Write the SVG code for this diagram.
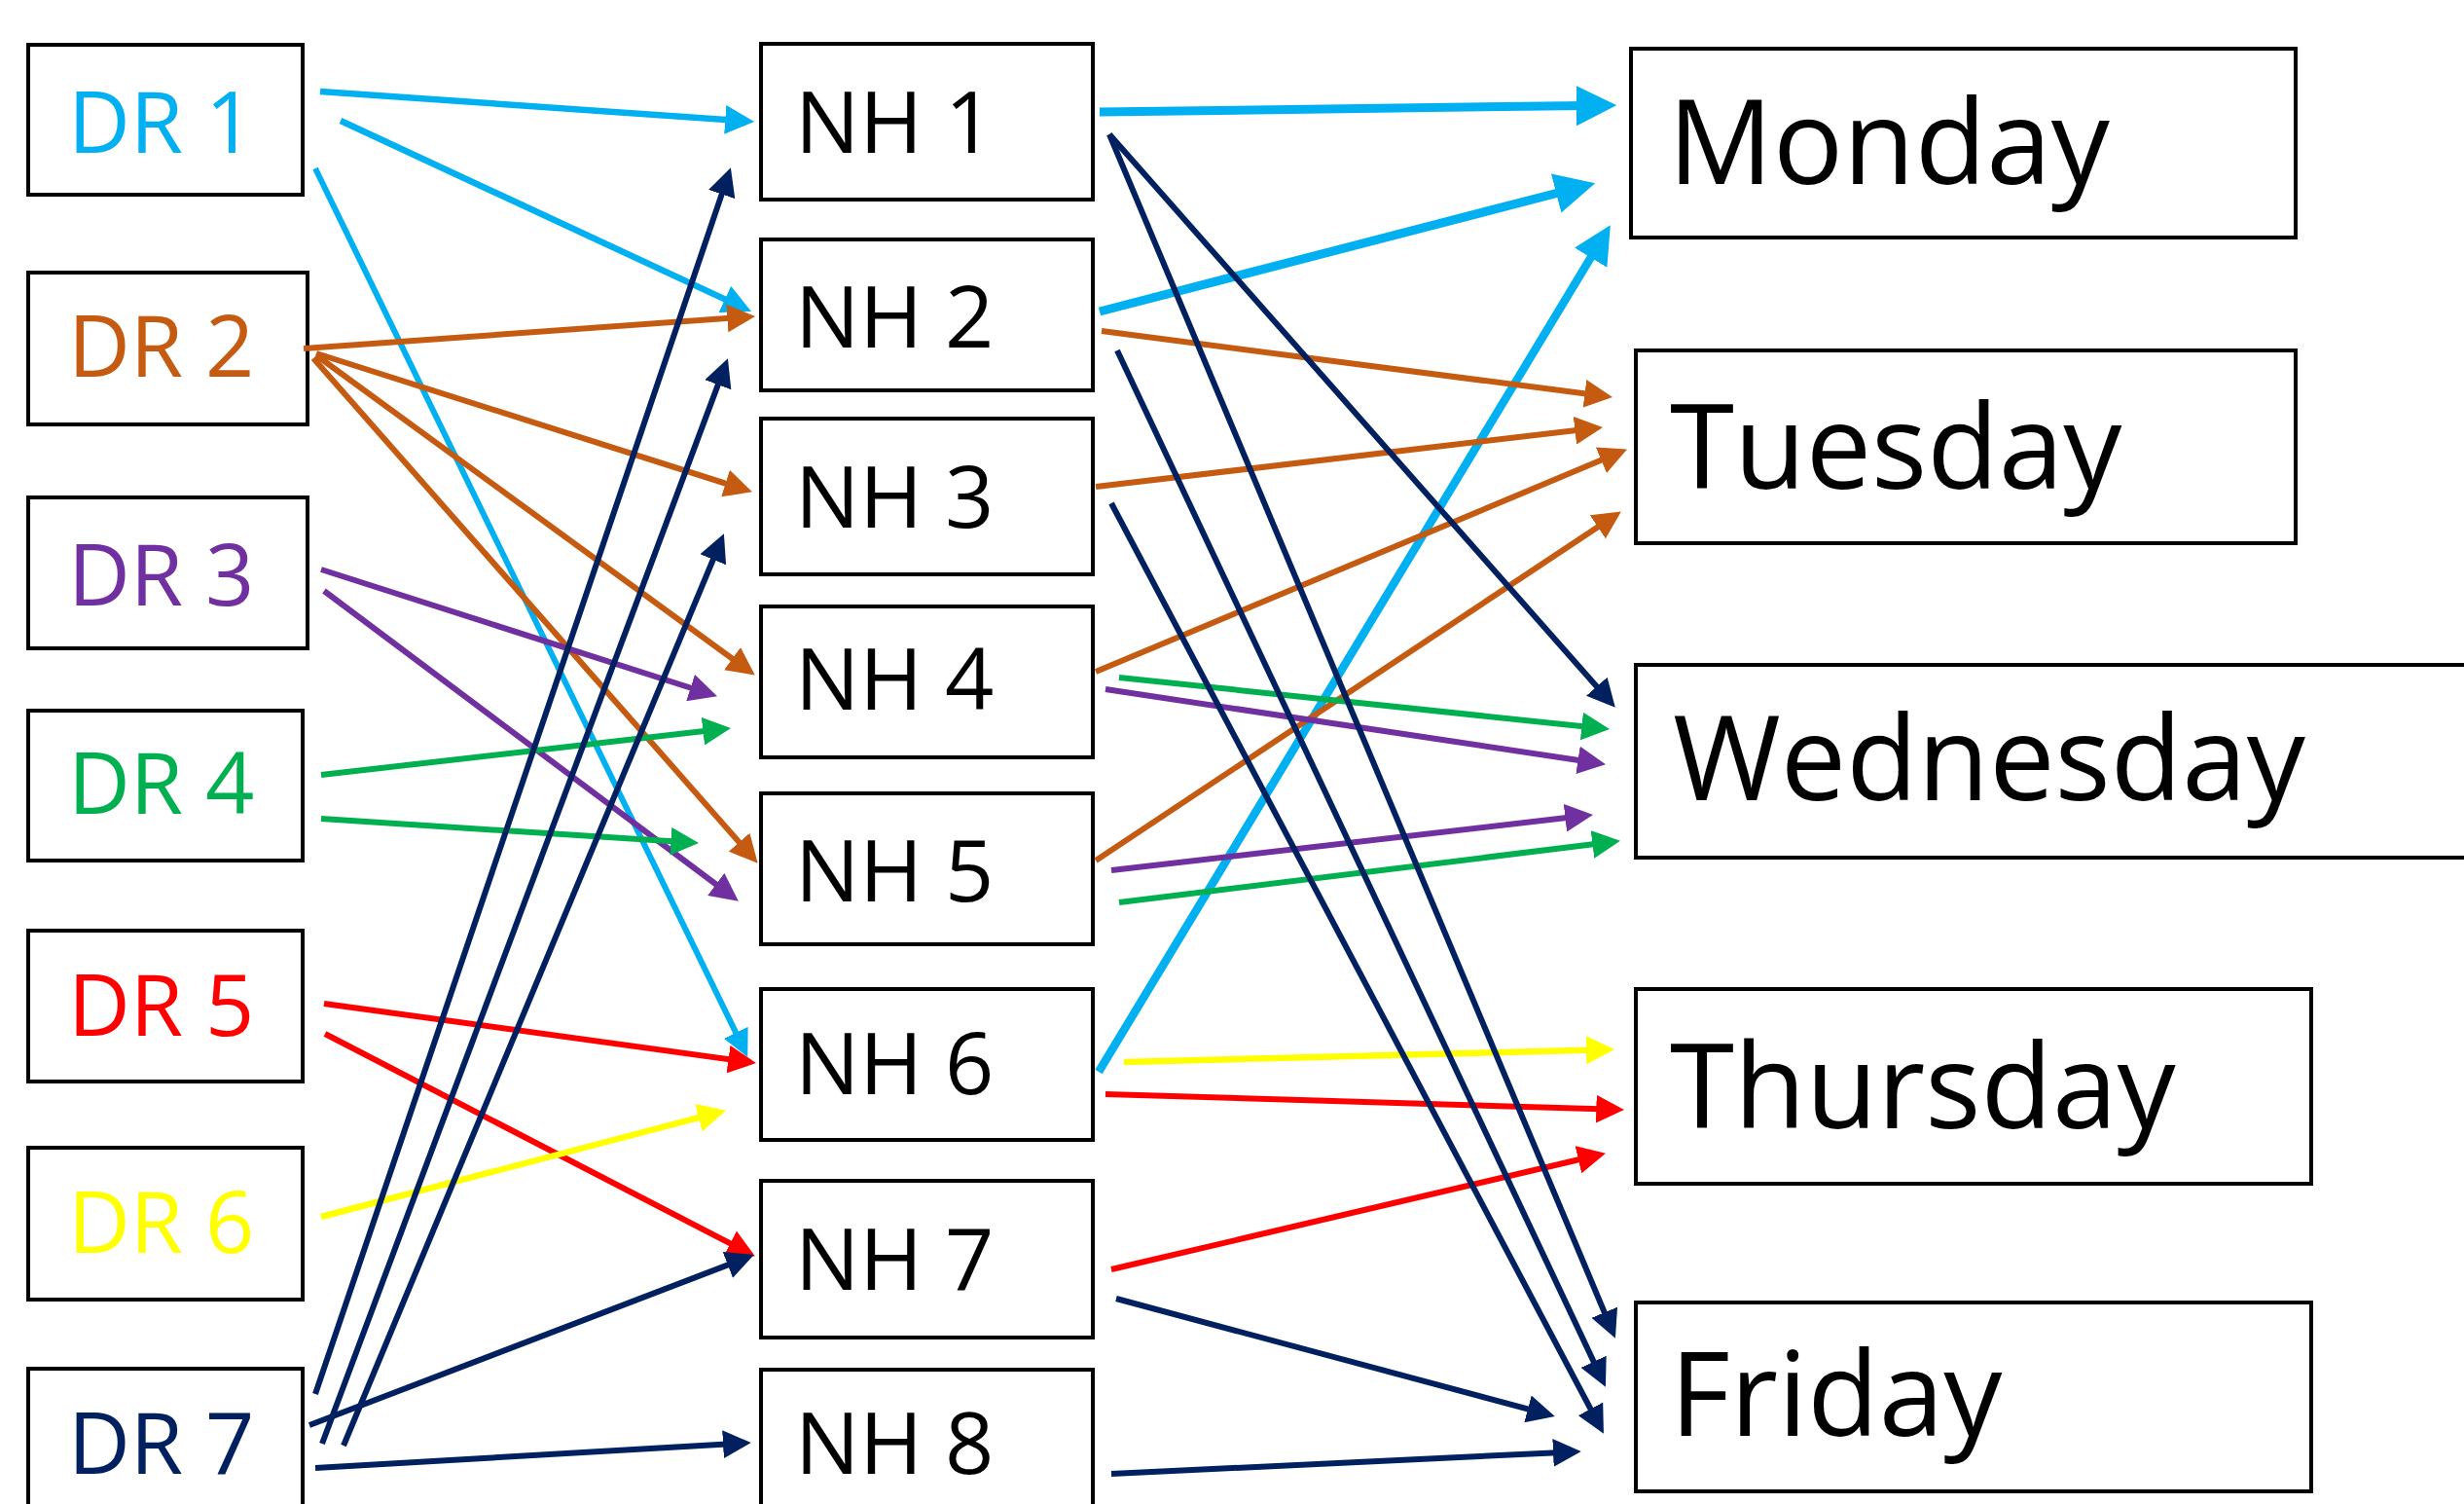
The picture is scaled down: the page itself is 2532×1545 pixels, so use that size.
<svg xmlns="http://www.w3.org/2000/svg" width="2532" height="1545" viewBox="0 0 2532 1545">
<style>
.box{fill:#ffffff;stroke:#000000;stroke-width:4}
.lbl{font-family:"Open Sans","Noto Sans","Liberation Sans",sans-serif;font-size:88px}
.day{font-family:"Open Sans","Noto Sans","Liberation Sans",sans-serif;font-size:120px;fill:#000000}
.c{fill:none;stroke-linecap:butt}
.cy{stroke:#00B0F0;marker-end:url(#mCy)}
.or{stroke:#C55A11;stroke-width:6;marker-end:url(#mOr)}
.pu{stroke:#7030A0;stroke-width:6;marker-end:url(#mPu)}
.gr{stroke:#00B050;stroke-width:6;marker-end:url(#mGr)}
.rd{stroke:#FF0000;stroke-width:6;marker-end:url(#mRd)}
.ye{stroke:#FFFF00;stroke-width:6.5;marker-end:url(#mYe)}
.nv{stroke:#002060;stroke-width:6;marker-end:url(#mNv)}
</style>
<defs>
<marker id="mCy" viewBox="0 0 10 10" refX="7.3" refY="5" markerWidth="4.6" markerHeight="4.6" markerUnits="strokeWidth" orient="auto"><path d="M0,0 L10,5 L0,10 z" fill="#00B0F0"/></marker>
<marker id="mOr" viewBox="0 0 10 10" refX="7.3" refY="5" markerWidth="4.8" markerHeight="4.8" markerUnits="strokeWidth" orient="auto"><path d="M0,0 L10,5 L0,10 z" fill="#C55A11"/></marker>
<marker id="mPu" viewBox="0 0 10 10" refX="7.3" refY="5" markerWidth="4.8" markerHeight="4.8" markerUnits="strokeWidth" orient="auto"><path d="M0,0 L10,5 L0,10 z" fill="#7030A0"/></marker>
<marker id="mGr" viewBox="0 0 10 10" refX="7.3" refY="5" markerWidth="4.8" markerHeight="4.8" markerUnits="strokeWidth" orient="auto"><path d="M0,0 L10,5 L0,10 z" fill="#00B050"/></marker>
<marker id="mRd" viewBox="0 0 10 10" refX="7.3" refY="5" markerWidth="4.8" markerHeight="4.8" markerUnits="strokeWidth" orient="auto"><path d="M0,0 L10,5 L0,10 z" fill="#FF0000"/></marker>
<marker id="mYe" viewBox="0 0 10 10" refX="7.3" refY="5" markerWidth="4.5" markerHeight="4.5" markerUnits="strokeWidth" orient="auto"><path d="M0,0 L10,5 L0,10 z" fill="#FFFF00"/></marker>
<marker id="mNv" viewBox="0 0 10 10" refX="7.3" refY="5" markerWidth="4.8" markerHeight="4.8" markerUnits="strokeWidth" orient="auto"><path d="M0,0 L10,5 L0,10 z" fill="#002060"/></marker>
</defs>
<rect x="0" y="0" width="2532" height="1545" fill="#ffffff"/>

<g id="dr1"><rect class="box" x="29" y="46" width="282" height="154"/><text class="lbl" x="70" y="157" fill="#00B0F0">DR 1</text></g>
<g id="dr2"><rect class="box" x="29" y="280" width="287" height="156"/><text class="lbl" x="70" y="387" fill="#C55A11">DR 2</text></g>
<g id="dr3"><rect class="box" x="29" y="511" width="287" height="155"/><text class="lbl" x="70" y="622" fill="#7030A0">DR 3</text></g>
<g id="dr4"><rect class="box" x="29" y="730" width="282" height="154"/><text class="lbl" x="70" y="836" fill="#00B050">DR 4</text></g>
<g id="dr5"><rect class="box" x="29" y="956" width="282" height="155"/><text class="lbl" x="70" y="1064" fill="#FF0000">DR 5</text></g>
<g id="dr6"><rect class="box" x="29" y="1179" width="282" height="156"/><text class="lbl" x="70" y="1287" fill="#FFFF00">DR 6</text></g>
<g id="dr7"><rect class="box" x="29" y="1406" width="282" height="160"/><text class="lbl" x="70" y="1514" fill="#002060">DR 7</text></g>

<g id="nh1"><rect class="box" x="782" y="45" width="341" height="160"/><text class="lbl" x="817" y="157">NH 1</text></g>
<g id="nh2"><rect class="box" x="782" y="246" width="341" height="155"/><text class="lbl" x="817" y="357">NH 2</text></g>
<g id="nh3"><rect class="box" x="782" y="430" width="341" height="160"/><text class="lbl" x="817" y="542">NH 3</text></g>
<g id="nh4"><rect class="box" x="782" y="623" width="341" height="155"/><text class="lbl" x="817" y="729">NH 4</text></g>
<g id="nh5"><rect class="box" x="782" y="815" width="341" height="155"/><text class="lbl" x="817" y="926">NH 5</text></g>
<g id="nh6"><rect class="box" x="782" y="1016" width="341" height="155"/><text class="lbl" x="817" y="1124">NH 6</text></g>
<g id="nh7"><rect class="box" x="782" y="1213" width="341" height="161"/><text class="lbl" x="817" y="1325">NH 7</text></g>
<g id="nh8"><rect class="box" x="782" y="1407" width="341" height="160"/><text class="lbl" x="817" y="1514">NH 8</text></g>

<g id="monday"><rect class="box" x="1676" y="50" width="683" height="194"/><text class="day" x="1714" y="189">Monday</text></g>
<g id="tuesday"><rect class="box" x="1681" y="360" width="678" height="198"/><text class="day" x="1716" y="502">Tuesday</text></g>
<g id="wednesday"><rect class="box" x="1681" y="683" width="900" height="198"/><text class="day" x="1719" y="822">Wednesday</text></g>
<g id="thursday"><rect class="box" x="1681" y="1016" width="694" height="200"/><text class="day" x="1716" y="1159">Thursday</text></g>
<g id="friday"><rect class="box" x="1681" y="1338" width="694" height="194"/><text class="day" x="1716" y="1475">Friday</text></g>

<g id="connectors">
<path class="c cy" style="stroke-width:6.5" d="M329,94 L767,124.4"/>
<path class="c cy" style="stroke-width:6.5" d="M350,124 L764.7,316.6"/>
<path class="c cy" style="stroke-width:6" d="M324,173 L765,1079"/>
<path class="c cy" style="stroke-width:9" d="M1130,115 L1650,108.2"/>
<path class="c cy" style="stroke-width:9" d="M1130,320 L1628.4,191"/>
<path class="c cy" style="stroke-width:8.5" d="M1129,1101 L1649.4,240.2"/>

<path class="c or" d="M312,358 L768.3,325.5"/>
<path class="c or" d="M325,363 L765.6,503"/>
<path class="c or" d="M325,365 L769.5,689"/>
<path class="c or" d="M322,368 L773.5,881"/>
<path class="c or" d="M1132,340 L1649.3,407.1"/>
<path class="c or" d="M1126,500 L1639.3,439.8"/>
<path class="c or" d="M1126,690 L1664.8,464.6"/>
<path class="c or" d="M1126,884 L1659.4,529.7"/>

<path class="c pu" d="M330,585 L729.6,713"/>
<path class="c pu" d="M333,607 L752.6,921"/>
<path class="c pu" d="M1136,708 L1642.3,784"/>
<path class="c pu" d="M1142,894 L1629.3,837.8"/>

<path class="c gr" d="M330,796 L743.3,748.8"/>
<path class="c gr" d="M330,841 L710.3,865.6"/>
<path class="c gr" d="M1150,696 L1646.3,748.3"/>
<path class="c gr" d="M1150,927 L1657.3,864.8"/>

<path class="c rd" d="M333,1031 L769.3,1091"/>
<path class="c rd" d="M334,1062 L769,1287"/>
<path class="c rd" d="M1136,1124 L1661.3,1139.8"/>
<path class="c rd" d="M1142,1304 L1642.4,1186.5"/>

<path class="c ye" d="M330,1250 L738.5,1142.7"/>
<path class="c ye" d="M1155,1091 L1651.3,1078.2"/>

<path class="c nv" d="M324,1432 L748.4,179.6"/>
<path class="c nv" d="M331,1483 L745.2,375.5"/>
<path class="c nv" d="M353,1485 L740.9,555.4"/>
<path class="c nv" d="M318,1464 L767.5,1291.9"/>
<path class="c nv" d="M324,1508 L764,1482.5"/>
<path class="c nv" d="M1140,138 L1654.7,721"/>
<path class="c nv" d="M1140,138 L1656.9,1367.6"/>
<path class="c nv" d="M1148,360 L1646.6,1417.8"/>
<path class="c nv" d="M1142,517 L1644.3,1465.9"/>
<path class="c nv" d="M1147,1334 L1590.3,1452.9"/>
<path class="c nv" d="M1142,1514 L1617,1491.4"/>
</g>
</svg>
